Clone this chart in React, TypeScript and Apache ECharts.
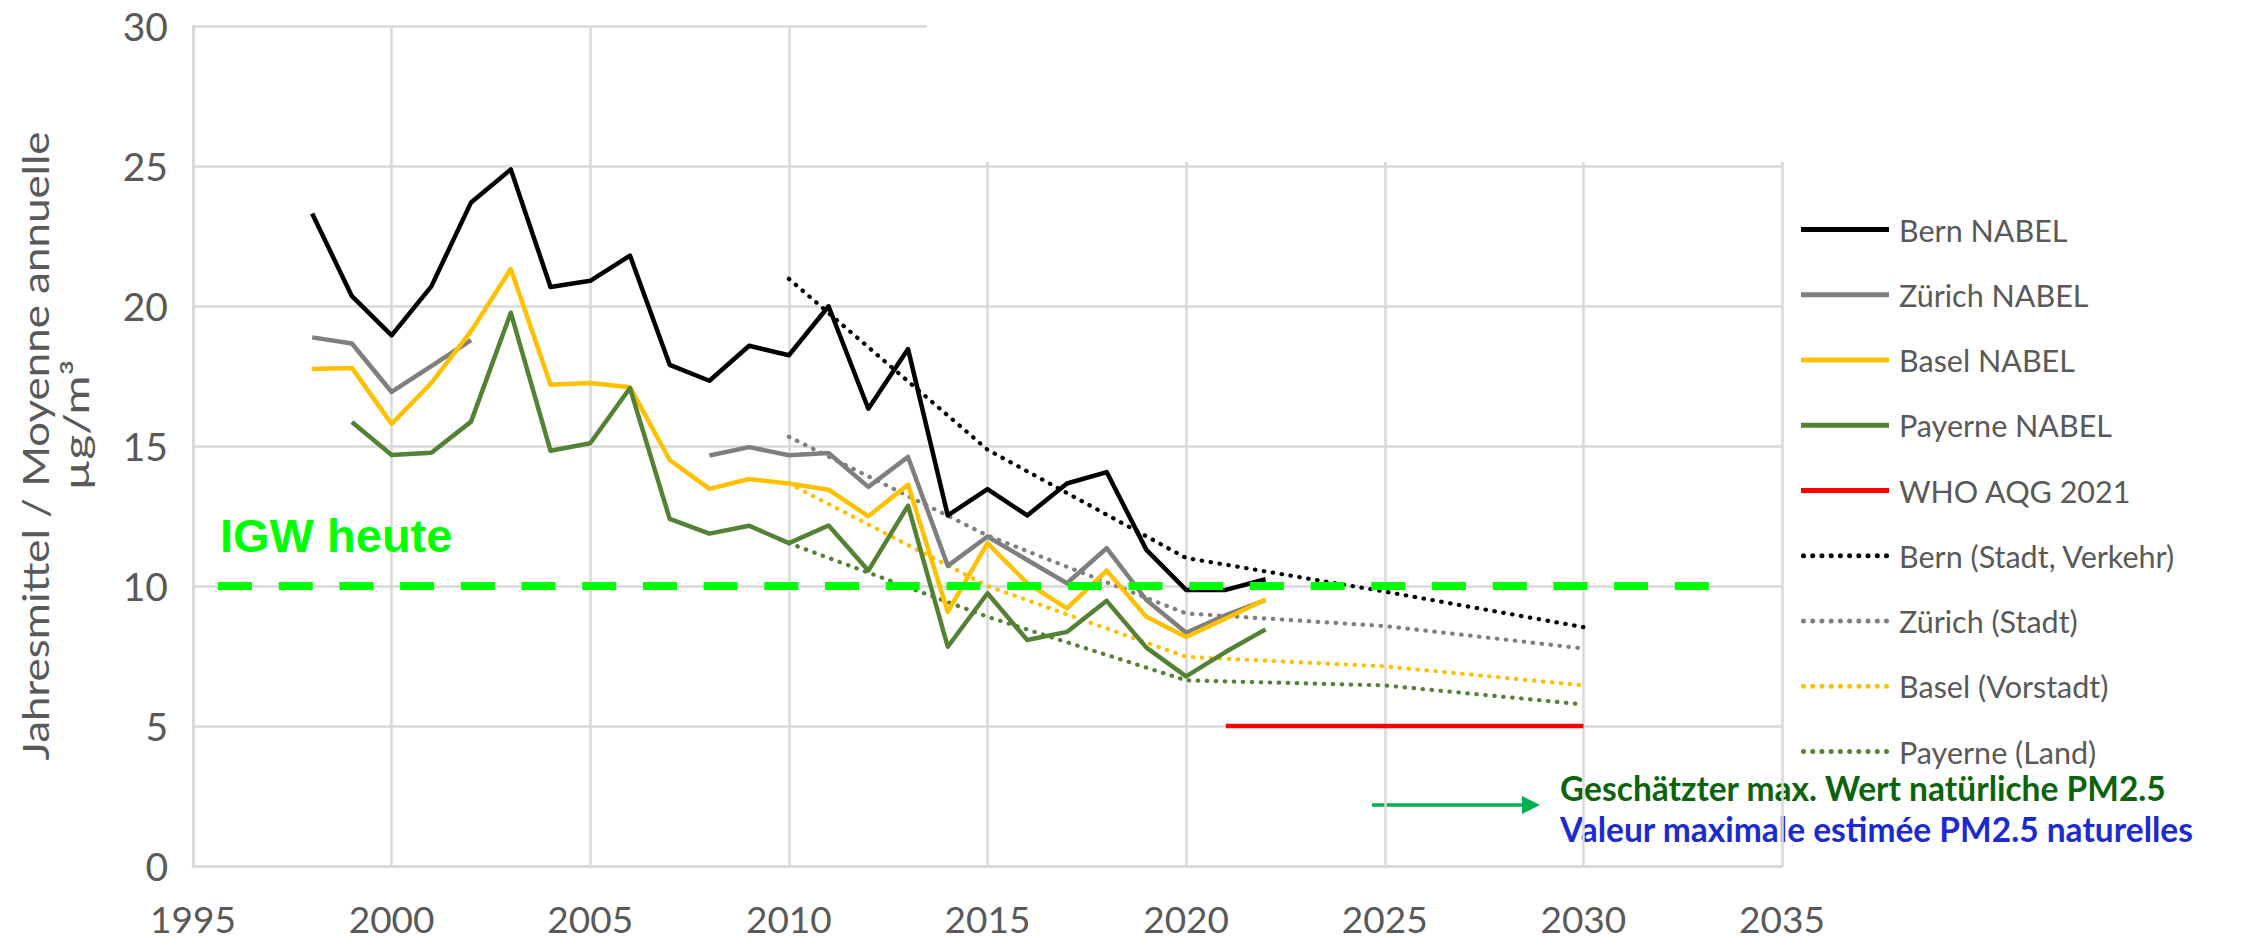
import React, { useEffect, useRef } from "react";
import * as echarts from "echarts";

// ---------- data ----------
const nabelYears = [1998, 1999, 2000, 2001, 2002, 2003, 2004, 2005, 2006, 2007, 2008, 2009, 2010, 2011, 2012, 2013, 2014, 2015, 2016, 2017, 2018, 2019, 2020, 2021, 2022];
const bernNabel = [23.3, 20.35, 18.95, 20.7, 23.7, 24.88, 20.68, 20.9, 21.8, 17.9, 17.33, 18.58, 18.24, 19.99, 16.33, 18.46, 12.52, 13.46, 12.52, 13.66, 14.07, 11.29, 9.86, 9.86, 10.24];
const zurichNabel = [18.88, 18.66, 16.93, 17.85, 18.78, null, null, null, null, null, 14.66, 14.96, 14.67, 14.75, 13.54, 14.61, 10.72, 11.77, 10.93, 10.1, 11.35, 9.5, 8.33, 8.96, 9.5];
const baselNabel = [17.75, 17.79, 15.79, 17.25, 19.1, 21.32, 17.19, 17.25, 17.1, 14.5, 13.47, 13.82, 13.66, 13.44, 12.49, 13.62, 9.08, 11.53, 10.1, 9.2, 10.55, 8.9, 8.18, 8.84, 9.52];
const payerneNabel = [null, 15.86, 14.68, 14.76, 15.87, 19.76, 14.83, 15.1, 17.07, 12.4, 11.87, 12.15, 11.53, 12.16, 10.55, 12.87, 7.83, 9.74, 8.07, 8.36, 9.47, 7.8, 6.77, 7.65, 8.45];

const projYears = [2010, 2015, 2020, 2025, 2030];
const bernProj = [20.97, 14.87, 11.0, 9.8, 8.53];
const zurichProj = [15.33, 11.8, 9.02, 8.57, 7.77];
const baselProj = [13.66, 10.0, 7.47, 7.13, 6.45];
const payerneProj = [11.53, 8.9, 6.63, 6.45, 5.77];

const whoYears = [2021, 2030];
const whoValues = [5, 5];
const igwYears = [1995.63, 2033.16];
const igwValues = [10, 10];

const xRange = [1995, 2035];
const xStep = 5;
const yRange = [0, 30];
const yStep = 5;

const seriesNames = [
  "Bern NABEL",
  "Zürich NABEL",
  "Basel NABEL",
  "Payerne NABEL",
  "WHO AQG 2021",
  "Bern (Stadt, Verkehr)",
  "Zürich (Stadt)",
  "Basel (Vorstadt)",
  "Payerne (Land)",
];
const yTitle = "Jahresmittel / Moyenne annuelle";
const yUnit = "µg/m³";
const igwLabel = "IGW heute";
const noteDe = "Geschätzter max. Wert natürliche PM2.5";
const noteFr = "Valeur maximale estimée PM2.5 naturelles";

// ---------- styles ----------
const FONT = "Lato, 'Open Sans', sans-serif";
const TEXT = "#595959";
const GRID = "#D9D9D9";
const C_BLACK = "#000000";
const C_GRAY = "#7F7F7F";
const C_YELLOW = "#FFC000";
const C_GREEN = "#548235";
const C_RED = "#FF0000";

const solidIcon = "path://M0,0H88V5H0Z";
const dotIcon =
  "path://" +
  Array.from({ length: 10 }, (_, i) => {
    const x0 = (i * 9.222).toFixed(2);
    return `M${x0},2.5a2.5,2.5 0 1,0 5,0a2.5,2.5 0 1,0 -5,0`;
  }).join("");

const pairs = (xs: number[], vs: (number | null)[]) =>
  xs.map((x, i) => [x, vs[i] === null ? "-" : vs[i]]);

const solid = (name: string, xs: number[], vs: (number | null)[], color: string) => ({
  type: "line",
  name,
  color,
  data: pairs(xs, vs),
  symbol: "none",
  silent: true,
  z: 3,
  lineStyle: { color, width: 4.5, join: "round" },
});

const dotted = (name: string, xs: number[], vs: number[], color: string) => ({
  type: "line",
  name,
  color,
  data: pairs(xs, vs),
  symbol: "none",
  silent: true,
  z: 2,
  lineStyle: { color, width: 4.2, type: [0.5, 8.5], cap: "round", join: "round" },
});

export default function App() {
  const ref = useRef<HTMLDivElement>(null);

  useEffect(() => {
    if (!ref.current) return;
    const chart = echarts.init(ref.current, null, { renderer: "svg" });

    const option = {
      animation: false,
      backgroundColor: "#ffffff",
      grid: { left: 193, right: 462, top: 26, bottom: 77, containLabel: false },
      xAxis: {
        type: "value",
        min: xRange[0],
        max: xRange[1],
        interval: xStep,
        axisLine: { show: true, lineStyle: { color: GRID, width: 3 } },
        axisTick: { show: false },
        splitLine: { show: true, lineStyle: { color: GRID, width: 2.5 } },
        axisLabel: {
          color: TEXT,
          fontFamily: FONT,
          fontSize: 37,
          margin: 34,
          formatter: (v: number) => String(v),
        },
      },
      yAxis: {
        type: "value",
        min: yRange[0],
        max: yRange[1],
        interval: yStep,
        axisLine: { show: true, lineStyle: { color: GRID, width: 3 } },
        axisTick: { show: false },
        splitLine: { show: true, lineStyle: { color: GRID, width: 2.5 } },
        axisLabel: {
          color: TEXT,
          fontFamily: FONT,
          fontSize: 39,
          margin: 25,
          formatter: (v: number) => String(v),
        },
      },
      legend: {
        orient: "vertical",
        left: 1801,
        top: 214,
        padding: 0,
        itemWidth: 88,
        itemHeight: 5,
        itemGap: 34.25,
        selectedMode: false,
        itemStyle: { borderWidth: 0 },
        textStyle: {
          color: TEXT,
          fontFamily: FONT,
          fontSize: 30.5,
          lineHeight: 30,
          padding: [0, 0, 0, 5],
        },
        data: seriesNames.map((n, i) => ({ name: n, icon: i < 5 ? solidIcon : dotIcon })),
      },
      graphic: [
        {
          type: "rect",
          z: 1,
          silent: true,
          shape: { x: 927, y: 0, width: 870, height: 162 },
          style: { fill: "#ffffff" },
        },
        {
          type: "text",
          x: 35,
          y: 446,
          rotation: Math.PI / 2,
          scaleX: 1.22,
          silent: true,
          style: {
            text: yTitle,
            fontFamily: FONT,
            fontSize: 36,
            fill: TEXT,
            align: "center",
            verticalAlign: "middle",
          },
        },
        {
          type: "text",
          x: 76,
          y: 425,
          rotation: Math.PI / 2,
          scaleX: 1.4,
          silent: true,
          style: {
            text: yUnit,
            fontFamily: FONT,
            fontSize: 34,
            fill: TEXT,
            align: "center",
            verticalAlign: "middle",
          },
        },
        {
          type: "text",
          x: 220,
          y: 535,
          silent: true,
          z: 10,
          style: {
            text: igwLabel,
            fontFamily: "'Liberation Sans', Arial, sans-serif",
            fontWeight: "bold",
            fontSize: 47,
            fill: "#00FF00",
            align: "left",
            verticalAlign: "middle",
          },
        },
        {
          type: "line",
          silent: true,
          shape: { x1: 1372, y1: 805, x2: 1528, y2: 805 },
          style: { stroke: "#00B050", lineWidth: 3.5 },
        },
        {
          type: "polygon",
          silent: true,
          shape: { points: [[1522, 796], [1540, 805], [1522, 814]] },
          style: { fill: "#00B050" },
        },
        {
          type: "text",
          x: 1560,
          y: 788,
          silent: true,
          style: {
            text: noteDe,
            fontFamily: FONT,
            fontWeight: "bold",
            fontSize: 33.5,
            fill: "#0B640B",
            align: "left",
            verticalAlign: "middle",
          },
        },
        {
          type: "text",
          x: 1560,
          y: 829,
          silent: true,
          style: {
            text: noteFr,
            fontFamily: FONT,
            fontWeight: "bold",
            fontSize: 33.5,
            fill: "#1C2BD1",
            align: "left",
            verticalAlign: "middle",
          },
        },
      ],
      series: [
        solid(seriesNames[0], nabelYears, bernNabel, C_BLACK),
        solid(seriesNames[1], nabelYears, zurichNabel, C_GRAY),
        solid(seriesNames[2], nabelYears, baselNabel, C_YELLOW),
        solid(seriesNames[3], nabelYears, payerneNabel, C_GREEN),
        solid(seriesNames[4], whoYears, whoValues, C_RED),
        dotted(seriesNames[5], projYears, bernProj, C_BLACK),
        dotted(seriesNames[6], projYears, zurichProj, C_GRAY),
        dotted(seriesNames[7], projYears, baselProj, C_YELLOW),
        dotted(seriesNames[8], projYears, payerneProj, C_GREEN),
        {
          type: "line",
          name: "IGW",
          data: pairs(igwYears, igwValues),
          symbol: "none",
          silent: true,
          z: 5,
          color: "#00FF00",
          lineStyle: { color: "#00FF00", width: 8, type: [34, 26.7], cap: "butt" },
        },
      ],
    };

    chart.setOption(option as any);
    return () => chart.dispose();
  }, []);

  return (
    <div
      ref={ref}
      style={{ position: "fixed", left: 0, top: 0, width: 2244, height: 943, background: "#fff" }}
    />
  );
}
